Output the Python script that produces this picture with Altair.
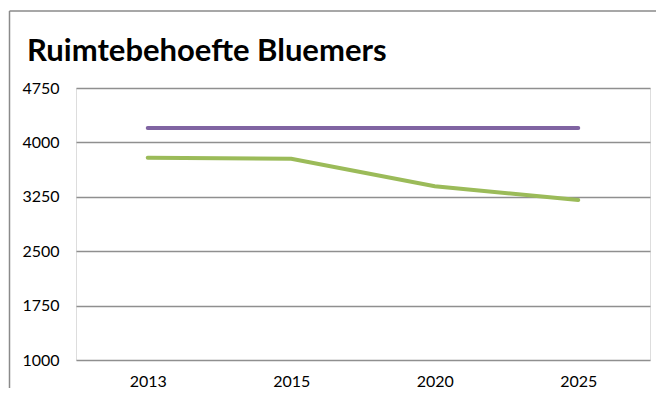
import altair as alt
import pandas as pd

years = ["2013", "2015", "2020", "2025"]
purple_vals = [4200, 4200, 4200, 4200]
green_vals = [3790, 3775, 3395, 3205]
series_names = ["Beschikbaar", "Behoefte"]
y_ticks = [1000, 1750, 2500, 3250, 4000, 4750]

rows = []
for name, vals in zip(series_names, [purple_vals, green_vals]):
    for y, v in zip(years, vals):
        rows.append({"jaar": y, "waarde": v, "serie": name})
df = pd.DataFrame(rows)

W, H = 574, 272
PL, PT, PR, PB = 68, 80, 6, 28

lines = alt.Chart(df).mark_line(strokeWidth=4, strokeCap="round").encode(
    x=alt.X("jaar:N", sort=years, scale=alt.Scale(paddingInner=0, paddingOuter=0.5),
            axis=alt.Axis(title=None, labelAngle=0, ticks=False, domain=False,
                          labelPadding=13, labelFont="Lato", labelFontSize=16,
                          labelColor="#000000", grid=False)),
    y=alt.Y("waarde:Q", scale=alt.Scale(domain=[1000, 4750], nice=False, zero=False),
            axis=alt.Axis(title=None, values=y_ticks, format="d", ticks=False, domain=False,
                          labelPadding=17, labelFont="Lato", labelFontSize=16,
                          labelColor="#000000", grid=True, gridColor="#8f8f8f",
                          gridWidth=1.5)),
    color=alt.Color("serie:N", sort=series_names,
                    scale=alt.Scale(domain=series_names, range=["#8064A2", "#9BBB59"]),
                    legend=None),
)

frame_df = pd.DataFrame({"k": [0]})
left_border = alt.Chart(frame_df).mark_rule(color="#8a8a8a", strokeWidth=1.5, clip=False).encode(
    x=alt.value(-66.5), y=alt.value(-77), y2=alt.value(H + PB)
)
top_border = alt.Chart(frame_df).mark_rule(color="#8a8a8a", strokeWidth=1.5, clip=False).encode(
    x=alt.value(-66.5), x2=alt.value(W + PR), y=alt.value(-77)
)

title_df = pd.DataFrame({"t": ["Ruimtebehoefte Bluemers"]})
title = alt.Chart(title_df).mark_text(
    align="left", baseline="alphabetic", font="Lato", fontWeight="bold",
    fontSize=31, color="#000000", clip=False
).encode(text="t:N", x=alt.value(-49), y=alt.value(-27))

chart = alt.layer(left_border, top_border, lines, title).properties(
    width=W, height=H,
    padding={"left": PL, "top": PT, "right": PR, "bottom": PB},
    autosize=alt.AutoSizeParams(type="none"),
).configure_view(stroke=None).configure(background="white")

chart.save("out.html", embed_options={"renderer": "svg", "actions": False})
